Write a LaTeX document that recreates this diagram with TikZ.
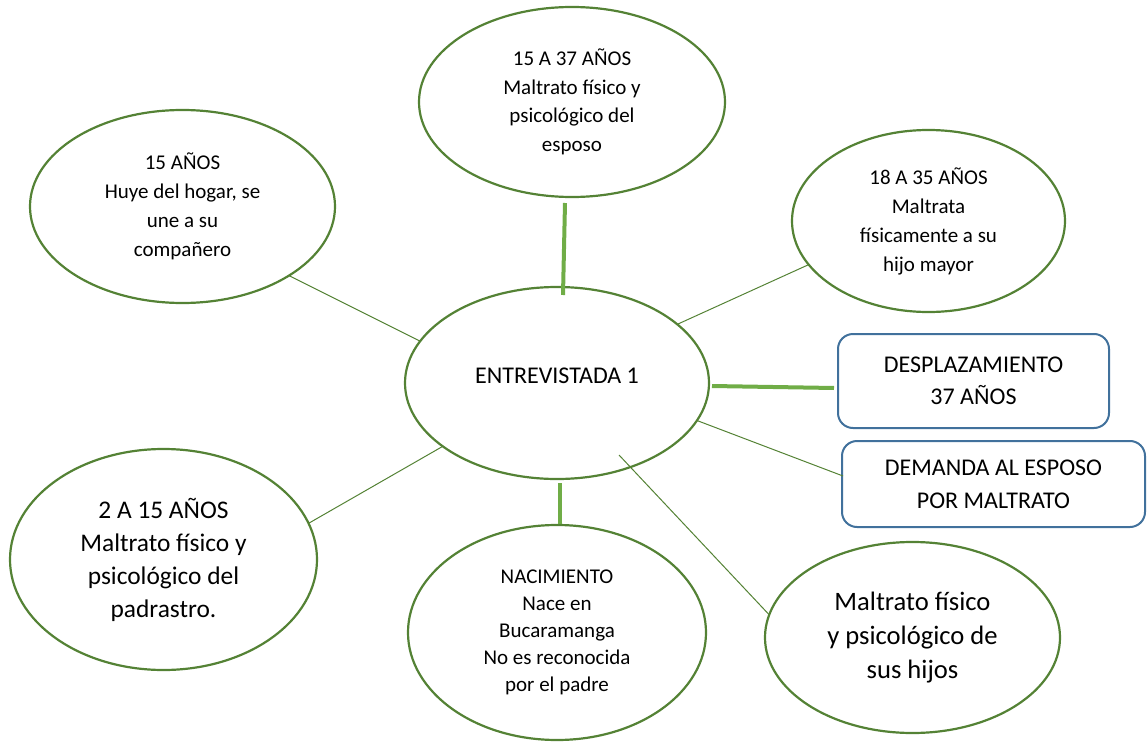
\documentclass[tikz,border=0pt]{standalone}
\usepackage{fontspec}
\setmainfont{Carlito}
\usetikzlibrary{shapes.geometric}
\definecolor{bordeverde}{RGB}{84,130,53}
\definecolor{ramaverde}{RGB}{112,173,71}
\definecolor{bordeazul}{RGB}{65,113,156}

\begin{document}
\begin{tikzpicture}[
  x=0.5pt, y=-0.5pt,
  bubble/.style={ellipse, draw=bordeverde, line width=1.1pt, inner sep=0pt, outer sep=0pt, align=center},
  tag/.style={draw=bordeazul, line width=1pt, rounded corners=7.5pt, inner sep=0pt, outer sep=0pt, align=center},
  link/.style={draw=bordeverde, line width=0.5pt},
  trunk/.style={draw=ramaverde, line width=2pt}
]
  \useasboundingbox (0,0) rectangle (1147,744);

  \node[bubble, minimum width=153pt, minimum height=95pt, font=\fontsize{10.5}{14.25}\selectfont] (esposo) at (572,102) {15 A 37 AÑOS\\Maltrato físico y\\psicológico del\\esposo};
  \node[bubble, minimum width=152.5pt, minimum height=96.5pt, font=\fontsize{10.5}{14.5}\selectfont] (huye) at (182.5,206.5) {15 AÑOS\\Huye del hogar, se\\une a su\\compañero};
  \node[bubble, minimum width=136.5pt, minimum height=91pt, font=\fontsize{10.5}{14.5}\selectfont] (hijo) at (928.5,221) {18 A 35 AÑOS\\Maltrata\\físicamente a su\\hijo mayor};
  \node[bubble, minimum width=152pt, minimum height=96pt, font=\fontsize{12}{16}\selectfont] (centro) at (557,383) {\raisebox{7.5pt}{ENTREVISTADA 1}};
  \node[tag, minimum width=135.5pt, minimum height=47pt, font=\fontsize{12}{16.25}\selectfont] (despl) at (973.5,381) {DESPLAZAMIENTO\\37 AÑOS};
  \node[tag, minimum width=151.5pt, minimum height=43pt, font=\fontsize{12}{16.5}\selectfont] (demanda) at (993.5,484) {DEMANDA AL ESPOSO\\POR MALTRATO};
  \node[bubble, minimum width=153.5pt, minimum height=110.5pt, font=\fontsize{12.7}{16.5}\selectfont] (padrastro) at (163.5,559.5) {2 A 15 AÑOS\\Maltrato físico y\\psicológico del\\padrastro.};
  \node[bubble, minimum width=149pt, minimum height=107.5pt, font=\fontsize{10.5}{13.5}\selectfont] (nace) at (557,632.5) {NACIMIENTO\\Nace en\\Bucaramanga\\No es reconocida\\por el padre};
  \node[bubble, minimum width=147.5pt, minimum height=95.5pt, font=\fontsize{13.3}{17}\selectfont] (hijos) at (912.5,637.5) {Maltrato físico\\y psicológico de\\sus hijos};

  \draw[link] (huye.-33.1) -- (centro.163.3);
  \draw[link] (hijo.200.8) -- (centro.26.4);
  \draw[trunk] ([shift={(-7,6)}]esposo.south) -- ([shift={(6,8)}]centro.north);
  \draw[trunk] ([shift={(3,3)}]centro.east) -- ([shift={(-4,7)}]despl.west);
  \draw[link] (centro.-15.4) -- ([shift={(1,-8)}]demanda.west);
  \draw[trunk] ([shift={(3,4)}]centro.south) -- ([shift={(3,-1)}]nace.north);
  \draw[link] (centro.209.4) -- (padrastro.14.2);
  \draw[link] ([shift={(62,72)}]centro.center) -- (hijos.171.9);
\end{tikzpicture}
\end{document}
